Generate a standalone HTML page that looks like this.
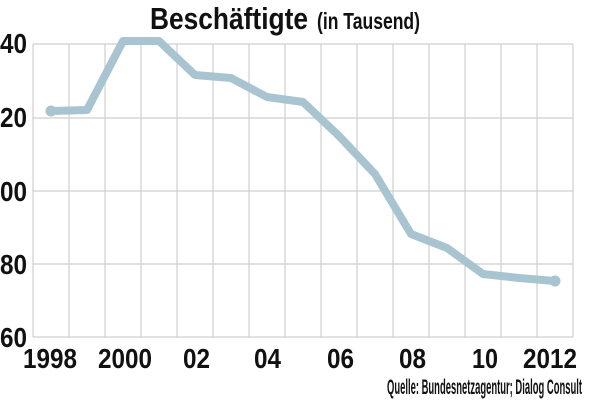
<!DOCTYPE html>
<html><head><meta charset="utf-8"><style>
body{margin:0;background:#fff;width:600px;height:400px;overflow:hidden}
svg text{font-family:"Liberation Sans",sans-serif;fill:#111;font-weight:bold}
</style></head><body>
<svg width="600" height="400" viewBox="0 0 600 400">
<g stroke="#cfcfcf" stroke-width="1.2">
<line x1="33" y1="44" x2="573" y2="44"/>
<line x1="33" y1="118" x2="573" y2="118"/>
<line x1="33" y1="191" x2="573" y2="191"/>
<line x1="33" y1="264" x2="573" y2="264"/>
<line x1="33" y1="337" x2="573" y2="337"/>
<line x1="33" y1="44" x2="33" y2="337"/><line x1="69" y1="44" x2="69" y2="337"/><line x1="105" y1="44" x2="105" y2="337"/><line x1="141" y1="44" x2="141" y2="337"/><line x1="177" y1="44" x2="177" y2="337"/><line x1="213" y1="44" x2="213" y2="337"/><line x1="249" y1="44" x2="249" y2="337"/><line x1="285" y1="44" x2="285" y2="337"/><line x1="321" y1="44" x2="321" y2="337"/><line x1="357" y1="44" x2="357" y2="337"/><line x1="393" y1="44" x2="393" y2="337"/><line x1="429" y1="44" x2="429" y2="337"/><line x1="465" y1="44" x2="465" y2="337"/><line x1="501" y1="44" x2="501" y2="337"/><line x1="537" y1="44" x2="537" y2="337"/><line x1="573" y1="44" x2="573" y2="337"/>
</g>
<polyline fill="none" stroke="#a9c4d1" stroke-width="8" stroke-linejoin="round" points="51,111 87,110 123,41 159,41 195,75 231,78 267,97 303,102 339,136 375,174 411,234 447,248 483,274 519,278 555,281"/>
<circle cx="51" cy="111" r="5.5" fill="#a9c4d1"/><circle cx="555" cy="281" r="5.5" fill="#a9c4d1"/>
<g font-size="28">
<text x="0" y="53" textLength="27" lengthAdjust="spacingAndGlyphs">40</text>
<text x="0" y="127" textLength="27" lengthAdjust="spacingAndGlyphs">20</text>
<text x="0" y="201" textLength="27" lengthAdjust="spacingAndGlyphs">00</text>
<text x="0" y="274" textLength="27" lengthAdjust="spacingAndGlyphs">80</text>
<text x="0" y="347" textLength="27" lengthAdjust="spacingAndGlyphs">60</text>
</g>
<g font-size="28">
<text x="23" y="368" textLength="54" lengthAdjust="spacingAndGlyphs">1998</text>
<text x="98" y="368" textLength="54" lengthAdjust="spacingAndGlyphs">2000</text>
<text x="183" y="368" textLength="27" lengthAdjust="spacingAndGlyphs">02</text>
<text x="254" y="368" textLength="27" lengthAdjust="spacingAndGlyphs">04</text>
<text x="327" y="368" textLength="27" lengthAdjust="spacingAndGlyphs">06</text>
<text x="399" y="368" textLength="27" lengthAdjust="spacingAndGlyphs">08</text>
<text x="472" y="368" textLength="26" lengthAdjust="spacingAndGlyphs">10</text>
<text x="523" y="368" textLength="54" lengthAdjust="spacingAndGlyphs">2012</text>
</g>
<text x="150" y="29" font-size="31" textLength="158" lengthAdjust="spacingAndGlyphs">Beschäftigte</text>
<text x="317" y="29" font-size="23" textLength="103" lengthAdjust="spacingAndGlyphs">(in Tausend)</text>
<text x="387" y="394" font-size="21" textLength="195" lengthAdjust="spacingAndGlyphs">Quelle: Bundesnetzagentur; Dialog Consult</text>
</svg>
</body></html>
